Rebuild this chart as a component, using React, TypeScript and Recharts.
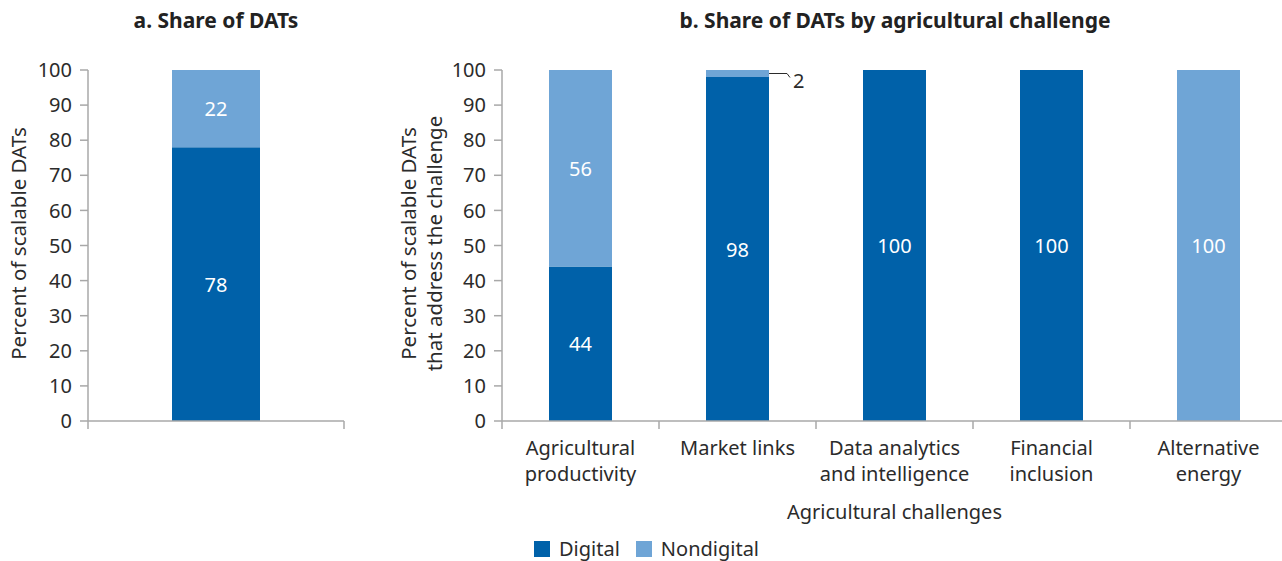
import React from 'react';
import { BarChart, Bar, XAxis, YAxis, LabelList, Label } from 'recharts';

// ---------- data ----------
const shareCategories = ['Scalable DATs'];
const shareDigital = [78];
const shareNondigital = [22];

const challengeCategories = [
  'Agricultural productivity',
  'Market links',
  'Data analytics and intelligence',
  'Financial inclusion',
  'Alternative energy',
];
const challengeTickLines = [
  ['Agricultural', 'productivity'],
  ['Market links'],
  ['Data analytics', 'and intelligence'],
  ['Financial', 'inclusion'],
  ['Alternative', 'energy'],
];
const challengeDigital = [44, 98, 100, 100, 0];
const challengeNondigital = [56, 2, 0, 0, 100];

const yTicks = [0, 10, 20, 30, 40, 50, 60, 70, 80, 90, 100];
const seriesNames = ['Digital', 'Nondigital'];

const titleA = 'a. Share of DATs';
const titleB = 'b. Share of DATs by agricultural challenge';
const yLabelA = ['Percent of scalable DATs'];
const yLabelB = ['Percent of scalable DATs', 'that address the challenge'];
const xLabelB = 'Agricultural challenges';

// ---------- style ----------
const DIGITAL = '#0061a9';
const NONDIGITAL = '#6fa5d6';
const AXIS = '#a8a8a8';
const TEXT = '#2b2b2b';
const FONT = '"Noto Sans", "Open Sans", sans-serif';
const FS = 20;
const FS_YLABEL = 20.5;

const shareData = shareCategories.map((name, i) => ({
  name,
  digital: shareDigital[i],
  nondigital: shareNondigital[i],
}));
const challengeData = challengeCategories.map((name, i) => ({
  name,
  lines: challengeTickLines[i],
  digital: challengeDigital[i],
  nondigital: challengeNondigital[i],
}));

const BandTick = (props: any) => {
  const { x, y, payload, index, visibleTicksCount, width, showText } = props;
  let band = 0;
  if (payload && payload.offset) band = payload.offset * 2;
  else if (width && visibleTicksCount) band = width / visibleTicksCount;
  const left = x - band / 2;
  const right = x + band / 2;
  const lines: string[] = showText ? challengeTickLines[index] || [String(payload.value)] : [];
  return (
    <g>
      <line x1={left} x2={left} y1={y} y2={y + 8} stroke={AXIS} strokeWidth={1.5} />
      {index === visibleTicksCount - 1 && (
        <line x1={right} x2={right} y1={y} y2={y + 8} stroke={AXIS} strokeWidth={1.5} />
      )}
      {lines.map((l, i) => (
        <text
          key={i}
          x={x}
          y={y + 26 + i * 26}
          textAnchor="middle"
          dominantBaseline="central"
          fill={TEXT}
          fontSize={FS}
          fontFamily={FONT}
        >
          {l}
        </text>
      ))}
    </g>
  );
};

const ValueLabel = (props: any) => {
  const { x, y, width, height, value } = props;
  if (!value) return null;
  if (value < 5) {
    const cy = y + height / 2;
    const x0 = x + width;
    return (
      <g>
        <path
          d={`M${x0},${cy} H${x0 + 18} L${x0 + 21},${cy + 4}`}
          fill="none"
          stroke={TEXT}
          strokeWidth={1}
        />
        <text
          x={x0 + 24}
          y={cy + 7}
          dominantBaseline="central"
          fill={TEXT}
          fontSize={FS}
          fontFamily={FONT}
        >
          {value}
        </text>
      </g>
    );
  }
  return (
    <text
      x={x + width / 2}
      y={y + height / 2}
      textAnchor="middle"
      dominantBaseline="central"
      fill="#ffffff"
      fontSize={FS}
      fontFamily={FONT}
    >
      {value}
    </text>
  );
};

const YTitle = (lines: string[], offsets: number[]) => (props: any) => {
  const vb = props.viewBox || {};
  const cy = vb.y + vb.height / 2 - 2;
  return (
    <g>
      {lines.map((l, i) => {
        const cx = vb.x + offsets[i];
        return (
          <text
            key={i}
            x={cx}
            y={cy}
            transform={`rotate(-90, ${cx}, ${cy})`}
            textAnchor="middle"
            dominantBaseline="central"
            fill={TEXT}
            fontSize={FS_YLABEL}
            fontFamily={FONT}
          >
            {l}
          </text>
        );
      })}
    </g>
  );
};

const XTitle = (props: any) => {
  const vb = props.viewBox || {};
  return (
    <text
      x={vb.x + vb.width / 2}
      y={vb.y + 90}
      textAnchor="middle"
      dominantBaseline="central"
      fill={TEXT}
      fontSize={FS}
      fontFamily={FONT}
    >
      {xLabelB}
    </text>
  );
};

const titleStyle: React.CSSProperties = {
  position: 'absolute',
  top: 6,
  fontFamily: FONT,
  fontWeight: 700,
  fontSize: 21,
  color: '#222',
  textAlign: 'center',
  whiteSpace: 'nowrap',
  lineHeight: '28px',
};

export default function App() {
  return (
    <div
      style={{
        position: 'absolute',
        left: 0,
        top: 0,
        width: 1282,
        height: 561,
        background: '#fff',
        fontFamily: FONT,
        overflow: 'hidden',
      }}
    >
      <div style={{ ...titleStyle, left: 16, width: 400 }}>{titleA}</div>
      <div style={{ ...titleStyle, left: 595, width: 600 }}>{titleB}</div>

      <div style={{ position: 'absolute', left: 0, top: 0 }}>
        <BarChart
          width={360}
          height={440}
          data={shareData}
          margin={{ top: 70, right: 16, bottom: 0, left: 0 }}
        >
          <XAxis
            dataKey="name"
            height={19}
            tickSize={0}
            tickMargin={0}
            tickLine={false}
            axisLine={{ stroke: AXIS, strokeWidth: 1.5 }}
            tick={<BandTick showText={false} />}
            interval={0}
          />
          <YAxis
            width={88}
            domain={[0, 100]}
            ticks={yTicks}
            interval={0}
            tickSize={8}
            tickMargin={8}
            axisLine={{ stroke: AXIS, strokeWidth: 1.5 }}
            tickLine={{ stroke: AXIS, strokeWidth: 1.5 }}
            tick={{ fill: TEXT, fontSize: FS, fontFamily: FONT }}
          >
            <Label content={YTitle(yLabelA, [18])} />
          </YAxis>
          <Bar dataKey="digital" name={seriesNames[0]} stackId="s" fill={DIGITAL} barSize={88} isAnimationActive={false}>
            <LabelList dataKey="digital" content={<ValueLabel />} />
          </Bar>
          <Bar dataKey="nondigital" name={seriesNames[1]} stackId="s" fill={NONDIGITAL} barSize={88} isAnimationActive={false}>
            <LabelList dataKey="nondigital" content={<ValueLabel />} />
          </Bar>
        </BarChart>
      </div>

      <div style={{ position: 'absolute', left: 380, top: 0 }}>
        <BarChart
          width={902}
          height={561}
          data={challengeData}
          margin={{ top: 70, right: -5, bottom: 0, left: 0 }}
        >
          <XAxis
            dataKey="name"
            height={140}
            tickSize={0}
            tickMargin={0}
            tickLine={false}
            axisLine={{ stroke: AXIS, strokeWidth: 1.5 }}
            tick={<BandTick showText={true} />}
            interval={0}
          >
            <Label content={XTitle} />
          </XAxis>
          <YAxis
            width={122}
            domain={[0, 100]}
            ticks={yTicks}
            interval={0}
            tickSize={8}
            tickMargin={8}
            axisLine={{ stroke: AXIS, strokeWidth: 1.5 }}
            tickLine={{ stroke: AXIS, strokeWidth: 1.5 }}
            tick={{ fill: TEXT, fontSize: FS, fontFamily: FONT }}
          >
            <Label content={YTitle(yLabelB, [28, 54])} />
          </YAxis>
          <Bar dataKey="digital" name={seriesNames[0]} stackId="s" fill={DIGITAL} barSize={63} isAnimationActive={false}>
            <LabelList dataKey="digital" content={<ValueLabel />} />
          </Bar>
          <Bar dataKey="nondigital" name={seriesNames[1]} stackId="s" fill={NONDIGITAL} barSize={63} isAnimationActive={false}>
            <LabelList dataKey="nondigital" content={<ValueLabel />} />
          </Bar>
        </BarChart>
      </div>

      <div
        style={{
          position: 'absolute',
          left: 534,
          top: 536,
          display: 'flex',
          alignItems: 'center',
          fontFamily: FONT,
          fontSize: FS,
          color: TEXT,
          lineHeight: '26px',
          whiteSpace: 'nowrap',
        }}
      >
        {seriesNames.map((n, i) => (
          <div key={n} style={{ display: 'flex', alignItems: 'center', marginRight: 16 }}>
            <span
              style={{
                display: 'inline-block',
                width: 16,
                height: 16,
                background: i === 0 ? DIGITAL : NONDIGITAL,
                marginRight: 9,
              }}
            />
            <span>{n}</span>
          </div>
        ))}
      </div>
    </div>
  );
}
